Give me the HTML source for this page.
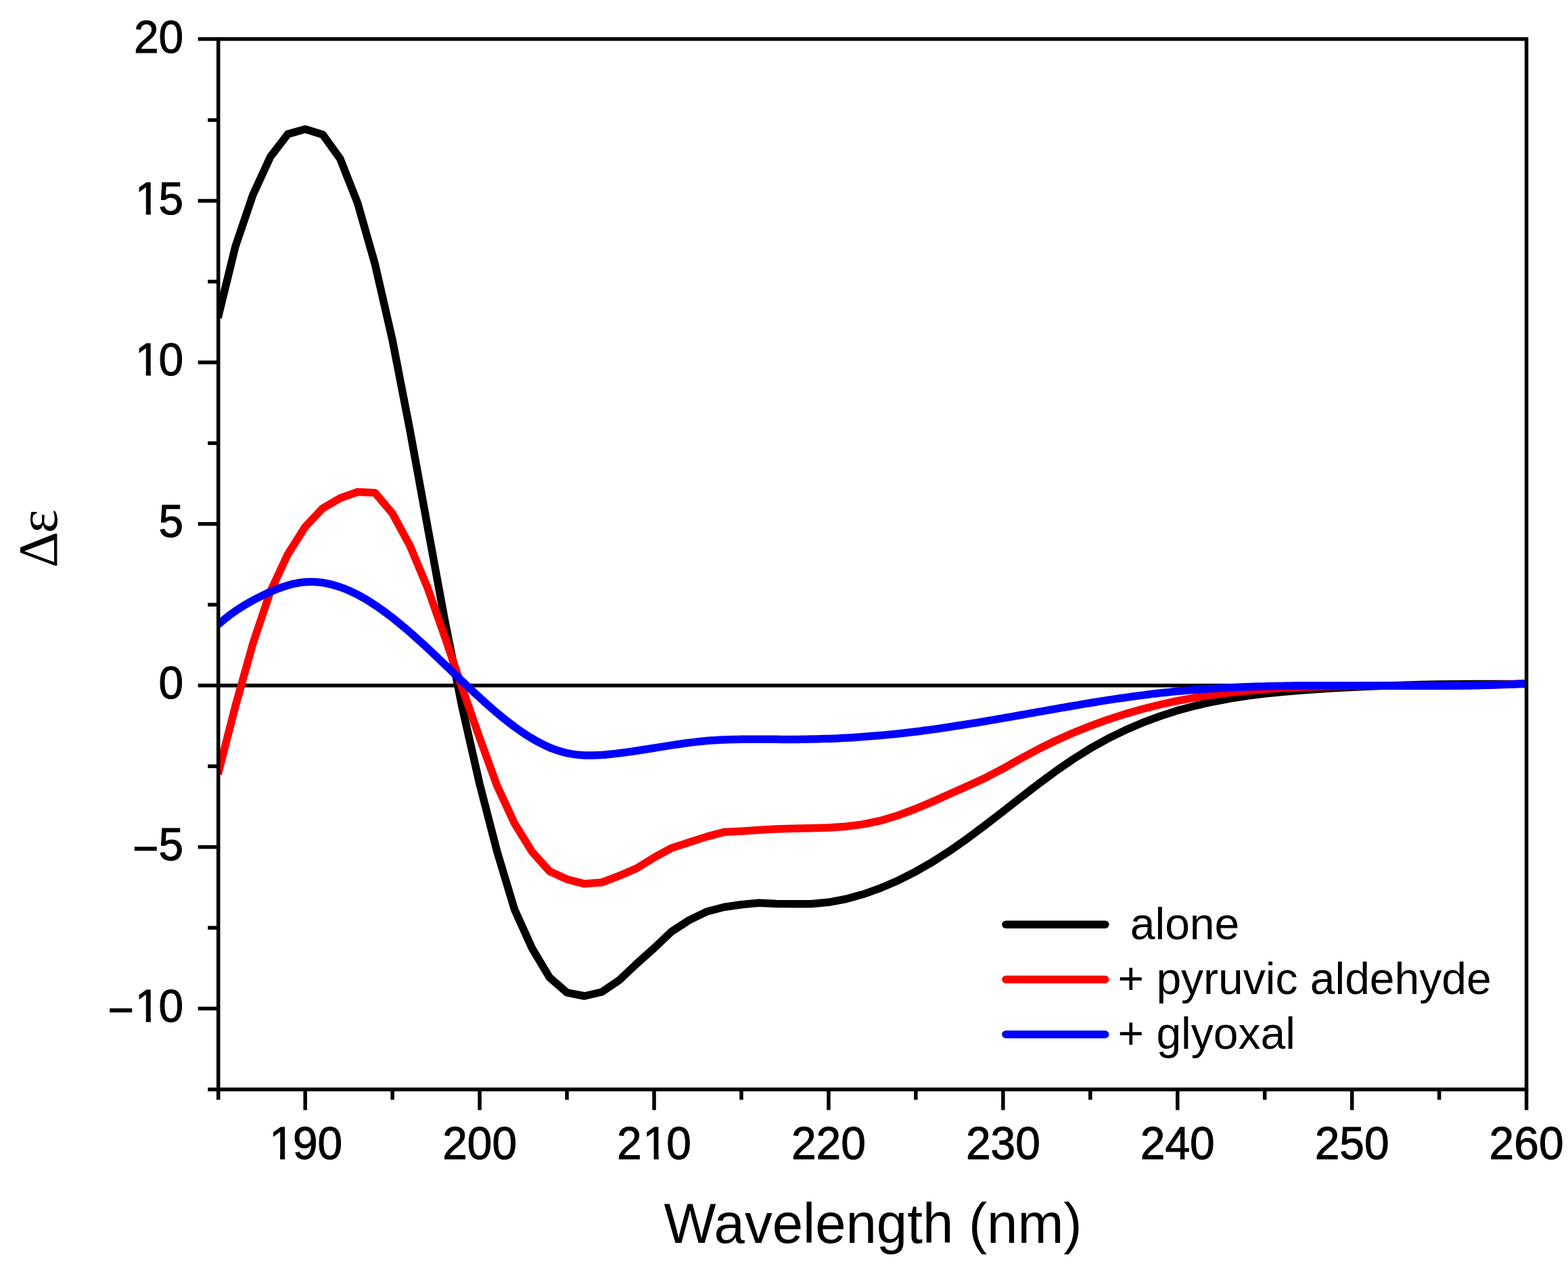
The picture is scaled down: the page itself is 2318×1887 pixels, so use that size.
<!DOCTYPE html>
<html><head><meta charset="utf-8"><title>CD spectrum</title>
<style>html,body{margin:0;padding:0;background:#fff;width:2318px;height:1887px;overflow:hidden}svg{display:block}</style>
</head><body>
<svg width="2318" height="1887" viewBox="0 0 2318 1887">
<defs><clipPath id="c"><rect x="322.75" y="57.70" width="1933.85" height="1553.40"/></clipPath></defs>
<rect x="0" y="0" width="2318" height="1887" fill="#fff"/>
<line x1="322.75" y1="1013.70" x2="2256.60" y2="1013.70" stroke="#000" stroke-width="5.5"/>
<g clip-path="url(#c)" fill="none" stroke-width="11.5" stroke-linejoin="round">
<path stroke="#000" d="M322.2 470.0 L348.0 364.5 L373.8 288.4 L399.6 232.1 L425.4 198.4 L451.2 191.0 L477.0 198.9 L502.8 234.7 L528.6 300.2 L554.4 390.7 L580.2 503.3 L605.9 635.7 L631.7 776.8 L657.5 917.1 L683.3 1046.2 L709.1 1159.6 L734.9 1259.5 L760.7 1345.2 L786.5 1402.2 L812.3 1445.4 L838.1 1467.8 L863.9 1473.0 L889.6 1467.0 L915.4 1449.6 L941.2 1425.1 L967.0 1402.1 L992.8 1377.6 L1018.6 1360.9 L1044.4 1348.3 L1070.2 1341.5 L1096.0 1337.7 L1121.8 1335.3 L1147.6 1336.6 L1173.3 1336.8 L1199.1 1336.7 L1224.9 1334.3 L1250.7 1329.5 L1276.5 1322.3 L1302.3 1313.1 L1328.1 1301.9 L1353.9 1288.8 L1379.7 1273.9 L1405.5 1257.3 L1431.3 1239.2 L1457.0 1219.9 L1482.8 1200.0 L1508.6 1179.8 L1534.4 1159.9 L1560.2 1140.8 L1586.0 1123.0 L1611.8 1106.8 L1637.6 1092.4 L1663.4 1079.8 L1689.2 1068.7 L1715.0 1059.1 L1740.7 1050.8 L1766.5 1043.8 L1792.3 1038.0 L1818.1 1033.1 L1843.9 1029.1 L1869.7 1025.9 L1895.5 1023.2 L1921.3 1021.0 L1947.1 1019.2 L1972.9 1017.6 L1998.7 1016.2 L2024.4 1015.0 L2050.2 1014.0 L2076.0 1013.2 L2101.8 1012.6 L2127.6 1012.1 L2153.4 1011.8 L2179.2 1011.6 L2205.0 1011.5 L2230.8 1011.5 L2256.6 1011.6"/>
<path stroke="#f00" d="M322.2 1145.0 L348.0 1044.3 L373.8 952.0 L399.6 875.2 L425.4 819.8 L451.2 779.1 L477.0 751.7 L502.8 736.7 L528.6 727.5 L554.4 728.8 L580.2 759.4 L605.9 806.7 L631.7 868.2 L657.5 941.6 L683.3 1017.4 L709.1 1091.3 L734.9 1162.2 L760.7 1217.8 L786.5 1259.5 L812.3 1288.4 L838.1 1300.2 L863.9 1307.1 L889.6 1305.0 L915.4 1295.2 L941.2 1284.1 L967.0 1268.1 L992.8 1254.1 L1018.6 1245.7 L1044.4 1237.4 L1070.2 1230.6 L1096.0 1229.2 L1121.8 1227.5 L1147.6 1226.1 L1173.3 1225.2 L1199.1 1224.7 L1224.9 1224.0 L1250.7 1222.2 L1276.5 1218.9 L1302.3 1213.5 L1328.1 1205.7 L1353.9 1196.0 L1379.7 1185.1 L1405.5 1173.6 L1431.3 1162.0 L1457.0 1150.2 L1482.8 1136.7 L1508.6 1122.0 L1534.4 1108.2 L1560.2 1095.5 L1586.0 1084.0 L1611.8 1073.6 L1637.6 1064.2 L1663.4 1055.9 L1689.2 1048.5 L1715.0 1042.0 L1740.7 1036.4 L1766.5 1031.6 L1792.3 1027.5 L1818.1 1024.2 L1843.9 1021.4 L1869.7 1019.2 L1895.5 1017.5 L1921.3 1016.3 L1947.1 1015.4 L1972.9 1014.8 L1998.7 1014.5 L2024.4 1014.3 L2050.2 1014.3 L2076.0 1014.3 L2101.8 1014.3 L2127.6 1014.3 L2153.4 1014.1 L2179.2 1013.7 L2205.0 1013.1 L2230.8 1012.1 L2256.6 1010.7"/>
<path stroke="#00f" d="M322.2 923.8 L328.7 918.3 L335.1 913.1 L341.6 908.2 L348.0 903.6 L354.5 899.3 L360.9 895.3 L367.4 891.5 L373.8 887.9 L380.3 884.5 L386.7 881.3 L393.2 878.2 L399.6 875.2 L406.1 872.5 L412.5 870.0 L419.0 867.7 L425.4 865.7 L431.9 863.9 L438.3 862.5 L444.7 861.4 L451.2 860.7 L457.6 860.4 L464.1 860.5 L470.5 860.9 L477.0 861.7 L483.4 862.8 L489.9 864.3 L496.3 866.1 L502.8 868.2 L509.2 870.5 L515.7 873.2 L522.1 876.2 L528.6 879.4 L535.0 882.9 L541.5 886.6 L547.9 890.6 L554.4 894.8 L560.8 899.2 L567.3 903.8 L573.7 908.6 L580.2 913.5 L586.6 918.7 L593.0 924.0 L599.5 929.4 L605.9 934.9 L612.4 940.6 L618.8 946.4 L625.3 952.3 L631.7 958.3 L638.2 964.3 L644.6 970.4 L651.1 976.6 L657.5 982.8 L664.0 988.9 L670.4 995.1 L676.9 1001.3 L683.3 1007.5 L689.8 1013.6 L696.2 1019.7 L702.7 1025.7 L709.1 1031.6 L715.6 1037.5 L722.0 1043.2 L728.4 1048.9 L734.9 1054.4 L741.3 1059.7 L747.8 1064.9 L754.2 1069.9 L760.7 1074.8 L767.1 1079.4 L773.6 1083.9 L780.0 1088.1 L786.5 1092.0 L792.9 1095.8 L799.4 1099.2 L805.8 1102.4 L812.3 1105.3 L818.7 1107.9 L825.2 1110.1 L831.6 1112.1 L838.1 1113.6 L844.5 1114.9 L851.0 1115.9 L857.4 1116.5 L863.9 1116.9 L870.3 1117.1 L876.7 1117.1 L883.2 1116.8 L889.6 1116.5 L896.1 1115.9 L902.5 1115.3 L909.0 1114.6 L915.4 1113.8 L921.9 1113.0 L928.3 1112.1 L934.8 1111.2 L941.2 1110.2 L947.7 1109.2 L954.1 1108.2 L960.6 1107.2 L967.0 1106.2 L973.5 1105.1 L979.9 1104.1 L986.4 1103.1 L992.8 1102.1 L999.3 1101.1 L1005.7 1100.2 L1012.1 1099.3 L1018.6 1098.4 L1025.0 1097.6 L1031.5 1096.9 L1037.9 1096.2 L1044.4 1095.6 L1050.8 1095.1 L1057.3 1094.7 L1063.7 1094.3 L1070.2 1094.0 L1076.6 1093.7 L1083.1 1093.5 L1089.5 1093.4 L1096.0 1093.3 L1102.4 1093.2 L1108.9 1093.2 L1115.3 1093.2 L1121.8 1093.2 L1128.2 1093.2 L1134.7 1093.2 L1141.1 1093.3 L1147.6 1093.3 L1154.0 1093.4 L1160.4 1093.4 L1166.9 1093.4 L1173.3 1093.4 L1179.8 1093.4 L1186.2 1093.3 L1192.7 1093.2 L1199.1 1093.1 L1205.6 1093.0 L1212.0 1092.8 L1218.5 1092.6 L1224.9 1092.4 L1231.4 1092.2 L1237.8 1091.9 L1244.3 1091.6 L1250.7 1091.2 L1257.2 1090.9 L1263.6 1090.5 L1270.1 1090.1 L1276.5 1089.6 L1283.0 1089.1 L1289.4 1088.6 L1295.9 1088.1 L1302.3 1087.5 L1308.7 1086.9 L1315.2 1086.3 L1321.6 1085.7 L1328.1 1085.0 L1334.5 1084.3 L1341.0 1083.5 L1347.4 1082.8 L1353.9 1082.0 L1360.3 1081.2 L1366.8 1080.3 L1373.2 1079.5 L1379.7 1078.6 L1386.1 1077.7 L1392.6 1076.8 L1399.0 1075.8 L1405.5 1074.8 L1411.9 1073.8 L1418.4 1072.8 L1424.8 1071.8 L1431.3 1070.8 L1437.7 1069.7 L1444.1 1068.7 L1450.6 1067.6 L1457.0 1066.5 L1463.5 1065.4 L1469.9 1064.3 L1476.4 1063.2 L1482.8 1062.1 L1489.3 1060.9 L1495.7 1059.8 L1502.2 1058.6 L1508.6 1057.5 L1515.1 1056.4 L1521.5 1055.2 L1528.0 1054.1 L1534.4 1052.9 L1540.9 1051.8 L1547.3 1050.6 L1553.8 1049.5 L1560.2 1048.3 L1566.7 1047.2 L1573.1 1046.1 L1579.6 1045.0 L1586.0 1043.9 L1592.4 1042.8 L1598.9 1041.7 L1605.3 1040.6 L1611.8 1039.5 L1618.2 1038.5 L1624.7 1037.4 L1631.1 1036.4 L1637.6 1035.4 L1644.0 1034.4 L1650.5 1033.4 L1656.9 1032.5 L1663.4 1031.6 L1669.8 1030.6 L1676.3 1029.8 L1682.7 1028.9 L1689.2 1028.1 L1695.6 1027.2 L1702.1 1026.4 L1708.5 1025.7 L1715.0 1024.9 L1721.4 1024.2 L1727.8 1023.6 L1734.3 1022.9 L1740.7 1022.3 L1747.2 1021.7 L1753.6 1021.1 L1760.1 1020.6 L1766.5 1020.1 L1773.0 1019.6 L1779.4 1019.2 L1785.9 1018.7 L1792.3 1018.3 L1798.8 1017.9 L1805.2 1017.6 L1811.7 1017.2 L1818.1 1016.9 L1824.6 1016.6 L1831.0 1016.3 L1837.5 1016.0 L1843.9 1015.8 L1850.4 1015.6 L1856.8 1015.3 L1863.3 1015.2 L1869.7 1015.0 L1876.1 1014.8 L1882.6 1014.7 L1889.0 1014.5 L1895.5 1014.4 L1901.9 1014.3 L1908.4 1014.2 L1914.8 1014.1 L1921.3 1014.1 L1927.7 1014.0 L1934.2 1014.0 L1940.6 1013.9 L1947.1 1013.9 L1953.5 1013.9 L1960.0 1013.9 L1966.4 1013.9 L1972.9 1013.9 L1979.3 1013.9 L1985.8 1013.9 L1992.2 1013.9 L1998.7 1013.9 L2005.1 1013.9 L2011.6 1014.0 L2018.0 1014.0 L2024.4 1014.0 L2030.9 1014.0 L2037.3 1014.1 L2043.8 1014.1 L2050.2 1014.1 L2056.7 1014.2 L2063.1 1014.2 L2069.6 1014.2 L2076.0 1014.2 L2082.5 1014.3 L2088.9 1014.3 L2095.4 1014.3 L2101.8 1014.3 L2108.3 1014.3 L2114.7 1014.3 L2121.2 1014.2 L2127.6 1014.2 L2134.1 1014.2 L2140.5 1014.1 L2147.0 1014.1 L2153.4 1014.0 L2159.8 1013.9 L2166.3 1013.8 L2172.7 1013.7 L2179.2 1013.6 L2185.6 1013.5 L2192.1 1013.3 L2198.5 1013.2 L2205.0 1013.0 L2211.4 1012.8 L2217.9 1012.6 L2224.3 1012.4 L2230.8 1012.1 L2237.2 1011.9 L2243.7 1011.6 L2250.1 1011.3 L2256.6 1011.0"/>
</g>
<rect x="322.75" y="57.70" width="1933.85" height="1553.40" fill="none" stroke="#000" stroke-width="5.5"/>
<g stroke="#000" stroke-width="5.5" fill="none"><line x1="292.70" y1="57.70" x2="322.75" y2="57.70"/><line x1="307.30" y1="177.55" x2="322.75" y2="177.55"/><line x1="292.70" y1="297.00" x2="322.75" y2="297.00"/><line x1="307.30" y1="416.45" x2="322.75" y2="416.45"/><line x1="292.70" y1="535.90" x2="322.75" y2="535.90"/><line x1="307.30" y1="655.35" x2="322.75" y2="655.35"/><line x1="292.70" y1="774.80" x2="322.75" y2="774.80"/><line x1="307.30" y1="894.25" x2="322.75" y2="894.25"/><line x1="292.70" y1="1013.70" x2="322.75" y2="1013.70"/><line x1="307.30" y1="1133.15" x2="322.75" y2="1133.15"/><line x1="292.70" y1="1252.60" x2="322.75" y2="1252.60"/><line x1="307.30" y1="1372.05" x2="322.75" y2="1372.05"/><line x1="292.70" y1="1491.50" x2="322.75" y2="1491.50"/><line x1="307.30" y1="1611.10" x2="322.75" y2="1611.10"/><line x1="322.75" y1="1611.10" x2="322.75" y2="1626.40"/><line x1="451.20" y1="1611.10" x2="451.20" y2="1641.60"/><line x1="580.15" y1="1611.10" x2="580.15" y2="1626.40"/><line x1="709.11" y1="1611.10" x2="709.11" y2="1641.60"/><line x1="838.06" y1="1611.10" x2="838.06" y2="1626.40"/><line x1="967.01" y1="1611.10" x2="967.01" y2="1641.60"/><line x1="1095.97" y1="1611.10" x2="1095.97" y2="1626.40"/><line x1="1224.93" y1="1611.10" x2="1224.93" y2="1641.60"/><line x1="1353.88" y1="1611.10" x2="1353.88" y2="1626.40"/><line x1="1482.84" y1="1611.10" x2="1482.84" y2="1641.60"/><line x1="1611.79" y1="1611.10" x2="1611.79" y2="1626.40"/><line x1="1740.75" y1="1611.10" x2="1740.75" y2="1641.60"/><line x1="1869.70" y1="1611.10" x2="1869.70" y2="1626.40"/><line x1="1998.65" y1="1611.10" x2="1998.65" y2="1641.60"/><line x1="2127.61" y1="1611.10" x2="2127.61" y2="1626.40"/><line x1="2256.60" y1="1611.10" x2="2256.60" y2="1641.60"/></g>
<g font-family="Liberation Sans, Arial, sans-serif" font-size="69" fill="#000" stroke="#000" stroke-width="1.1"><g transform="translate(451.20 1713.50) scale(0.955 1)"><text x="-55.56 -19.19 19.19" y="0">190</text><rect x="-52.01" y="-7.30" width="13.10" height="10.85" fill="#fff" stroke="none"/><rect x="-31.41" y="-7.30" width="12.56" height="10.85" fill="#fff" stroke="none"/></g><g transform="translate(709.11 1713.50) scale(0.955 1)"><text x="-57.56 -19.19 19.19" y="0">200</text></g><g transform="translate(967.01 1713.50) scale(0.955 1)"><text x="-57.56 -17.19 19.19" y="0">210</text><rect x="-13.63" y="-7.30" width="13.10" height="10.85" fill="#fff" stroke="none"/><rect x="6.96" y="-7.30" width="12.56" height="10.85" fill="#fff" stroke="none"/></g><g transform="translate(1224.93 1713.50) scale(0.955 1)"><text x="-57.56 -19.19 19.19" y="0">220</text></g><g transform="translate(1482.84 1713.50) scale(0.955 1)"><text x="-57.56 -19.19 19.19" y="0">230</text></g><g transform="translate(1740.75 1713.50) scale(0.955 1)"><text x="-57.56 -19.19 19.19" y="0">240</text></g><g transform="translate(1998.65 1713.50) scale(0.955 1)"><text x="-57.56 -19.19 19.19" y="0">250</text></g><g transform="translate(2256.57 1713.50) scale(0.955 1)"><text x="-57.56 -19.19 19.19" y="0">260</text></g><g transform="translate(271.20 77.60) scale(0.955 1)"><text x="-76.75 -38.37" y="0">20</text></g><g transform="translate(271.20 316.50) scale(0.955 1)"><text x="-74.75 -38.37" y="0">15</text><rect x="-71.20" y="-7.30" width="13.10" height="10.85" fill="#fff" stroke="none"/><rect x="-50.60" y="-7.30" width="12.56" height="10.85" fill="#fff" stroke="none"/></g><g transform="translate(271.20 555.40) scale(0.955 1)"><text x="-74.75 -38.37" y="0">10</text><rect x="-71.20" y="-7.30" width="13.10" height="10.85" fill="#fff" stroke="none"/><rect x="-50.60" y="-7.30" width="12.56" height="10.85" fill="#fff" stroke="none"/></g><g transform="translate(271.20 794.30) scale(0.955 1)"><text x="-38.37" y="0">5</text></g><g transform="translate(271.20 1033.20) scale(0.955 1)"><text x="-38.37" y="0">0</text></g><g transform="translate(271.20 1272.10) scale(0.955 1)"><text x="-78.67 -38.37" dy="6 -6" y="0">−5</text></g><g transform="translate(271.20 1511.00) scale(0.955 1)"><text x="-117.04 -74.75 -38.37" dy="6 -6" y="0">−10</text><rect x="-71.20" y="-7.30" width="13.10" height="10.85" fill="#fff" stroke="none"/><rect x="-50.60" y="-7.30" width="12.56" height="10.85" fill="#fff" stroke="none"/></g></g>
<text transform="translate(981.6 1837.8) scale(0.971 1)" font-family="Liberation Sans, Arial, sans-serif" font-size="84" fill="#000">Wavelength (nm)</text>
<text transform="translate(84.3 839.7) rotate(-90)" font-family="Liberation Serif, Times New Roman, serif" font-size="83.5" fill="#000">Δ<tspan dx="-2.5">ε</tspan></text>
<g font-family="Liberation Sans, Arial, sans-serif" font-size="66" fill="#000"><line x1="1486.9" y1="1367.3" x2="1633.8" y2="1367.3" stroke="#000" stroke-width="11.5" stroke-linecap="round"/><text x="1670.8" y="1389.1">alone</text><line x1="1486.9" y1="1448.5" x2="1633.8" y2="1448.5" stroke="#f00" stroke-width="11.5" stroke-linecap="round"/><text x="1652.5" y="1470.1">+ pyruvic aldehyde</text><line x1="1486.9" y1="1529.7" x2="1633.8" y2="1529.7" stroke="#00f" stroke-width="11.5" stroke-linecap="round"/><text x="1652.5" y="1551.1">+ glyoxal</text></g>
</svg>
</body></html>
